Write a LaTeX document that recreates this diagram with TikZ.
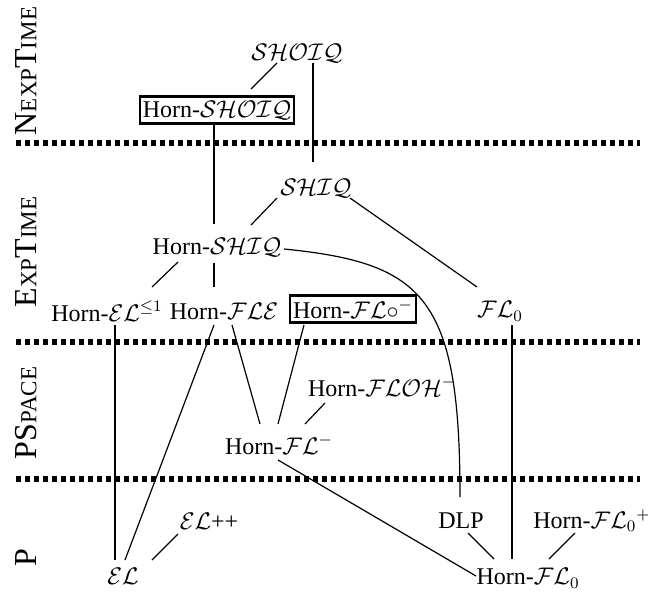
\documentclass[tikz,border=0pt]{standalone}
\usepackage{amsmath, amssymb}
\usepackage{fontspec}
\setmainfont{Liberation Serif}
\usepackage{tikz}
\usetikzlibrary{positioning, calc}

\newcommand{\fsc}[1]{{\fontsize{11.5}{12}\selectfont #1}}

\begin{document}
\begin{tikzpicture}[x=0.5pt, y=-0.5pt, inner sep=1pt,
    logic/.style={font=\fontsize{12}{14}\selectfont},
    framed/.style={logic, draw, line width=1.2pt, inner xsep=1.5pt, inner ysep=2pt},
    cls/.style={rotate=90, font=\fontsize{16}{16}\selectfont},
    bound/.style={line width=2.6pt, dash pattern=on 2.6pt off 1.9pt},
    edge/.style={line width=0.6pt}]

    \useasboundingbox (0,0) rectangle (648,594);

    \node[cls] (nexp) at (26,71) {N\fsc{EXP}T\fsc{IME}};
    \node[cls] (exp) at (26,252) {E\fsc{XP}T\fsc{IME}};
    \node[cls] (pspace) at (26,413) {PS\fsc{PACE}};
    \node[cls] (ptime) at (26,558) {P};

    \draw[bound] (16,143) -- (640,143);
    \draw[bound] (16,342) -- (640,342);
    \draw[bound] (16,479) -- (640,479);

    \node[logic] (shoiq) at (297,53) {$\mathcal{SHOIQ}$};
    \node[framed] (hshoiq) at (217,110) {Horn-$\mathcal{SHOIQ}$};
    \node[logic] (shiq) at (316,188) {$\mathcal{SHIQ}$};
    \node[logic] (hshiq) at (217,247) {Horn-$\mathcal{SHIQ}$};
    \node[logic] (hel1) at (107,311) {Horn-$\mathcal{EL}^{\leq 1}$};
    \node[logic] (hfle) at (224,311) {Horn-$\mathcal{FLE}$};
    \node[framed] (hflo) at (353,309) {Horn-$\mathcal{FL}\circ^{-}$};
    \node[logic] (fl0) at (500,311) {$\mathcal{FL}_0$};
    \node[logic] (hfloh) at (382,387) {Horn-$\mathcal{FLOH}^{-}$};
    \node[logic] (hflm) at (279,445) {Horn-$\mathcal{FL}^{-}$};
    \node[logic] (elpp) at (209,521) {$\mathcal{EL}$++};
    \node[logic] (dlp) at (461,521) {DLP};
    \node[logic] (hfl0p) at (592,521) {Horn-$\mathcal{FL}_0{}^{+}$};
    \node[logic] (el) at (123,576) {$\mathcal{EL}$};
    \node[logic] (hfl0) at (528,578) {Horn-$\mathcal{FL}_0$};

    \draw[edge] ([shift={(-20,10)}]shoiq.center) -- ([shift={(34,-21)}]hshoiq.center);
    \draw[edge] ([shift={(16,10)}]shoiq.center) -- ([shift={(-3,-26)}]shiq.center);
    \draw[edge] ([shift={(-3,15)}]hshoiq.center) -- ([shift={(-3,-23)}]hshiq.center);
    \draw[edge] ([shift={(-39,10)}]shiq.center) -- ([shift={(34,-22)}]hshiq.center);
    \draw[edge] ([shift={(34,10)}]shiq.center) -- ([shift={(-23,-24)}]fl0.center);
    \draw[edge] ([shift={(-39,15)}]hshiq.center) -- ([shift={(45,-24)}]hel1.center);
    \draw[edge] ([shift={(-3,16)}]hshiq.center) -- ([shift={(-10,-24)}]hfle.center);
    \draw[edge] ([shift={(67,2)}]hshiq.center) .. controls +(140,14) and +(0,-200) .. ([shift={(-1,-24)}]dlp.center);
    \draw[edge] ([shift={(8,14)}]hel1.center) -- ([shift={(-8,-16)}]el.center);
    \draw[edge] ([shift={(-10,14)}]hfle.center) -- ([shift={(2,-16)}]el.center);
    \draw[edge] ([shift={(8,14)}]hfle.center) -- ([shift={(-19,-21)}]hflm.center);
    \draw[edge] ([shift={(-49,16)}]hflo.center) -- ([shift={(-1,-21)}]hflm.center);
    \draw[edge] ([shift={(-57,16)}]hfloh.center) -- ([shift={(26,-21)}]hflm.center);
    \draw[edge] ([shift={(-1,15)}]hflm.center) -- ([shift={(-52,-2)}]hfl0.center);
    \draw[edge] ([shift={(12,14)}]fl0.center) -- ([shift={(-16,-19)}]hfl0.center);
    \draw[edge] ([shift={(-31,13)}]elpp.center) -- ([shift={(29,-16)}]el.center);
    \draw[edge] ([shift={(7,12)}]dlp.center) -- ([shift={(-34,-19)}]hfl0.center);
    \draw[edge] ([shift={(-17,12)}]hfl0p.center) -- ([shift={(21,-19)}]hfl0.center);

\end{tikzpicture}
\end{document}
